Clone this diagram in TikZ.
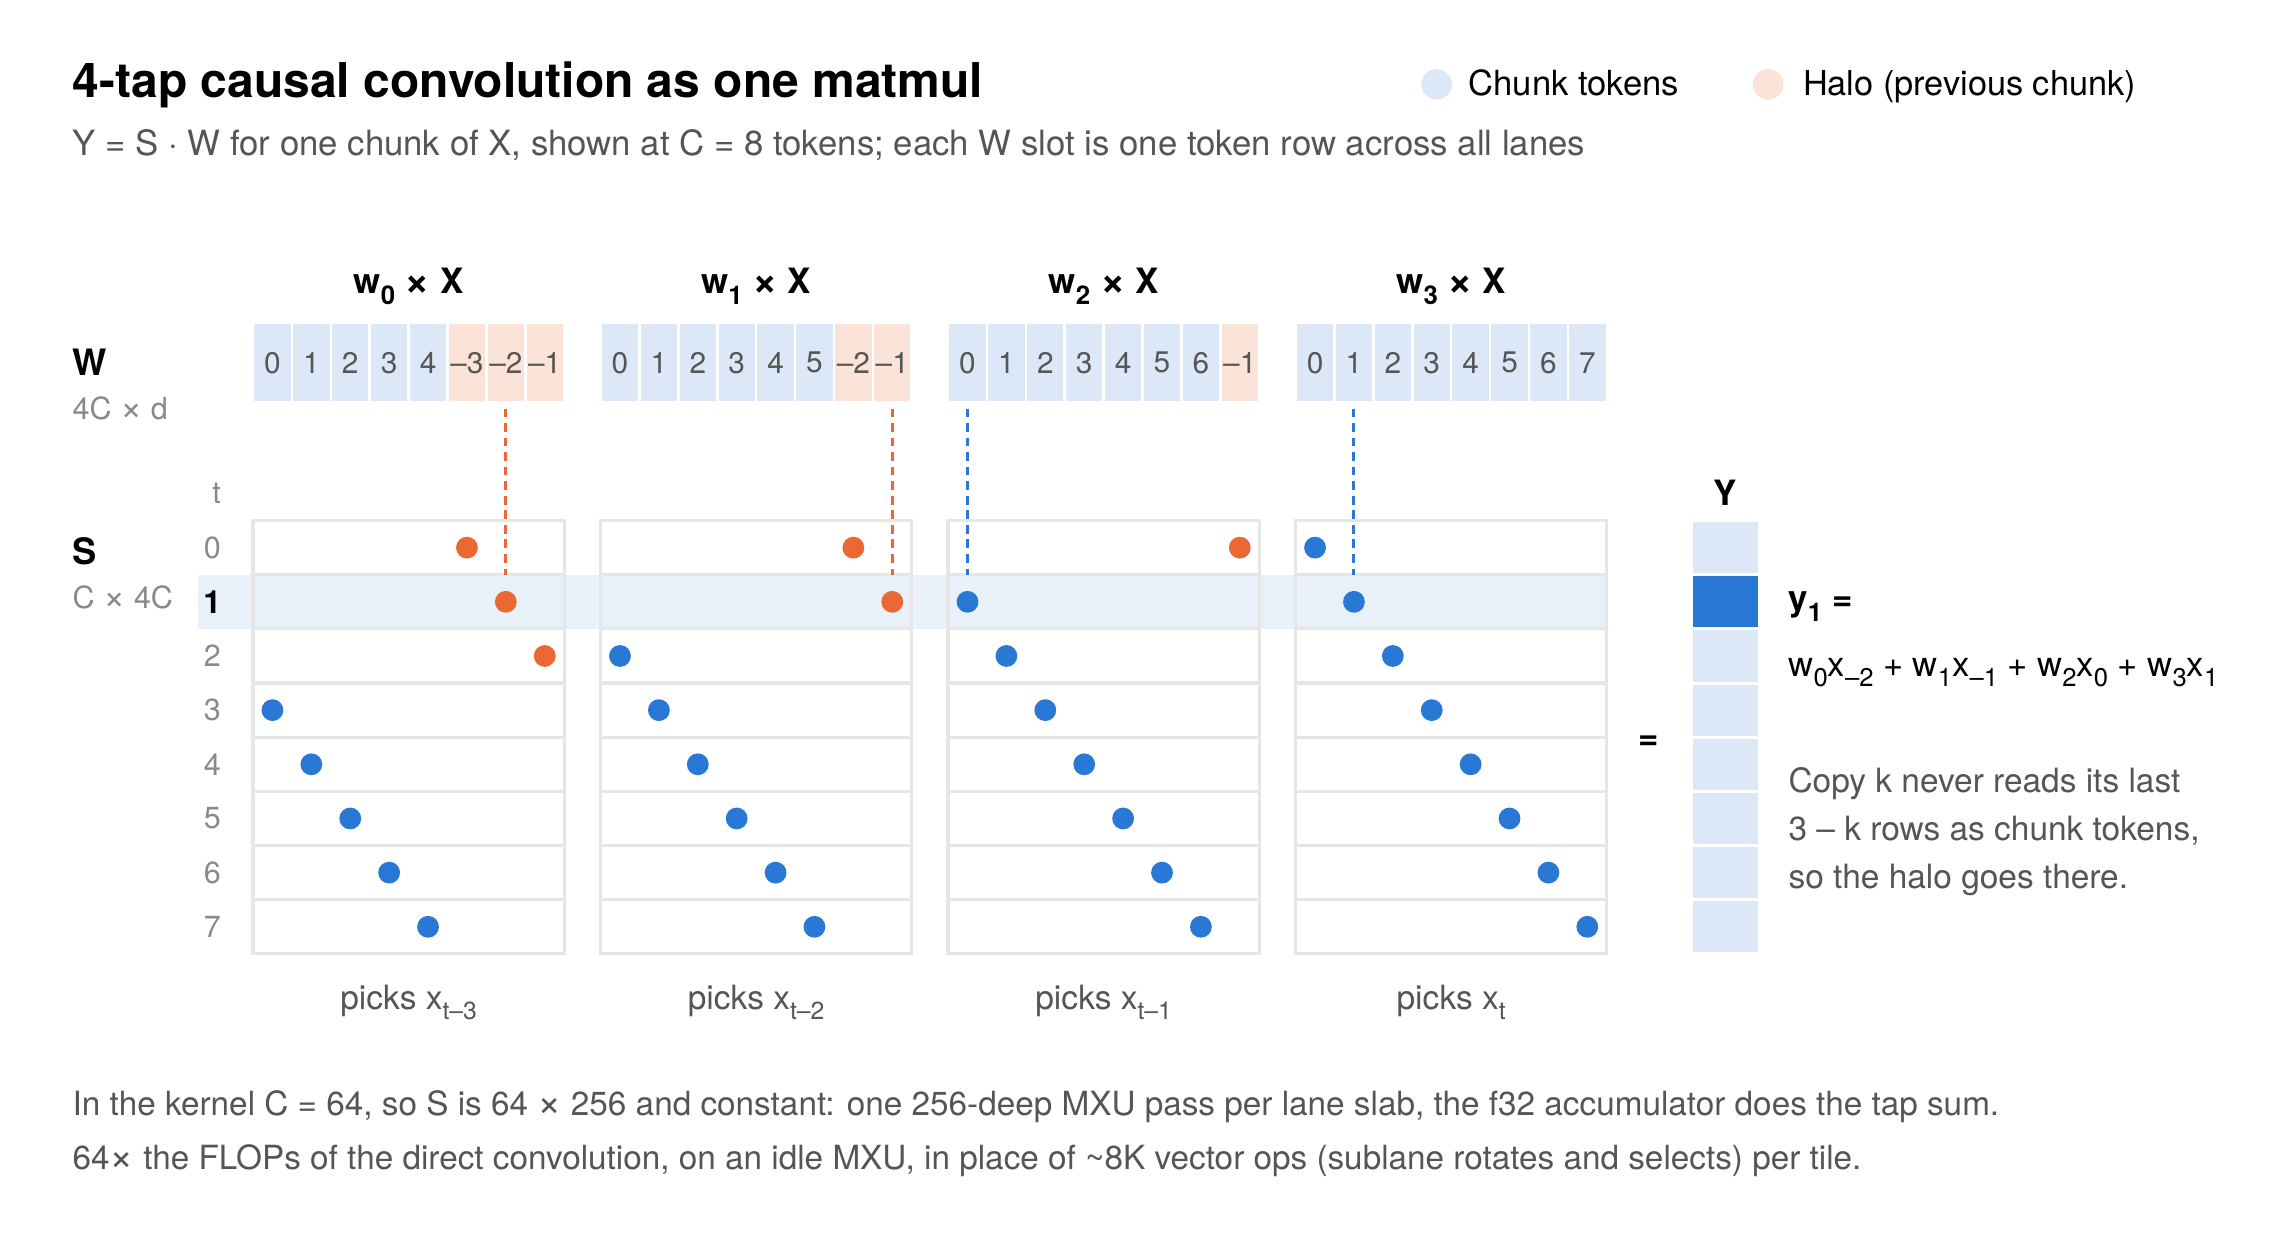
\documentclass[tikz,border=0pt]{standalone}
\usepackage{fontspec}
\usepackage{graphicx}
\setmainfont{TeX Gyre Heros}
\usetikzlibrary{calc}
\definecolor{cblue}{HTML}{2A78D6}
\definecolor{corange}{HTML}{EB6834}
\definecolor{lblue}{HTML}{DCE8F7}
\definecolor{lorange}{HTML}{FCE3D8}
\definecolor{bandc}{HTML}{E8F0FA}
\definecolor{gridc}{HTML}{E6E6E3}
\definecolor{txtgrey}{HTML}{555555}
\definecolor{lblgrey}{HTML}{8A8A8A}
\newcommand{\fsz}[2]{\fontsize{#1}{#2}\selectfont}
\newcommand{\sbs}[1]{\raisebox{-0.3em}{\scalebox{0.74}{#1}}}
\newcommand{\tms}{\raisebox{-0.05em}{\scalebox{1.25}{×}}}
\begin{document}
\begin{tikzpicture}[x=1pt,y=-1pt,
  every node/.style={inner sep=0pt, outer sep=0pt},
  wcell/.style={rectangle, minimum width=25pt, minimum height=53pt, font=\fsz{20.5}{24}\color{txtgrey}},
  rowcell/.style={rectangle, draw=gridc, line width=2.2pt, minimum width=214pt, minimum height=37.25pt},
  ycell/.style={rectangle, minimum width=45pt, minimum height=35.25pt},
  dot/.style={circle, minimum size=15pt},
  dashline/.style={line width=2pt, dash pattern=on 6pt off 4pt},
  boldlbl/.style={font=\bfseries\fsz{24}{28}},
  greylbl/.style={font=\fsz{21}{25}, text=lblgrey},
  bodytxt/.style={font=\fsz{23}{27}, text=txtgrey},
]
\fill[white] (0,0) rectangle (1568,850);
\useasboundingbox (0,0) rectangle (1568,850);

% title and subtitle
\node[anchor=base west, font=\bfseries\fsz{33}{40}] (title) at (50,67) {4-tap causal convolution as one matmul};
\node[anchor=base west, bodytxt, font=\fsz{23.9}{28}] (subtitle) at (50,107) {Y = S · W for one chunk of X, shown at C = 8 tokens; each W slot is one token row across all lanes};

% legend
\node[circle, fill=lblue, minimum size=21pt] (legcdot) at (988,58) {};
\node[anchor=base west, font=\fsz{23.8}{28}] (legc) at (1010,66) {Chunk tokens};
\node[circle, fill=lorange, minimum size=21pt] (leghdot) at (1216,58) {};
\node[anchor=base west, font=\fsz{23.6}{28}] (legh) at (1240,66) {Halo (previous chunk)};

% left labels
\node[anchor=west, boldlbl, font=\bfseries\fsz{25}{29}] (Wlbl) at (50,249) {W};
\node[anchor=west, greylbl] (Wdim) at (50,281) {4C \tms{} d};
\node[anchor=west, boldlbl, font=\bfseries\fsz{25}{29}] (Slbl) at (50,379) {S};
\node[anchor=west, greylbl] (Sdim) at (50,411) {C \tms{} 4C};
\node[greylbl] (tlbl) at (149,339) {t};

% highlight band for row 1
\fill[bandc] (136,395.25) rectangle (1106,432.5);

% row labels
\foreach \t in {0,...,7}{
  \ifnum\t=1
    \node[font=\bfseries\fsz{22}{25}] (rl-\t) at (146,358+37.25*\t+18.625) {\t};
  \else
    \node[greylbl] (rl-\t) at (146,358+37.25*\t+18.625) {\t};
  \fi
}

% panels
\foreach \p in {0,1,2,3}{
  \pgfmathsetmacro{\xo}{174+239*\p}
  \pgfmathtruncatemacro{\hs}{5+\p}
  \node[boldlbl] (hdr-\p) at (\xo+107,197) {w\sbs{\p} \tms{} X};
  \foreach \c in {0,...,7}{
    \pgfmathtruncatemacro{\nv}{8-\c}
    \ifnum\c<\hs
      \node[wcell, fill=lblue] (w-\p-\c) at (\xo+26.75*\c+13.375,249.5) {\c};
    \else
      \node[wcell, fill=lorange] (w-\p-\c) at (\xo+26.75*\c+13.375,249.5) {–\nv};
    \fi
  }
  \foreach \t in {0,...,7}{
    \node[rowcell] (r-\p-\t) at (\xo+107,358+37.25*\t+18.625) {};
  }
  \foreach \t in {0,...,7}{
    \pgfmathtruncatemacro{\dc}{\t-3+\p}
    \ifnum\dc<0
      \pgfmathtruncatemacro{\col}{\dc+8}
      \node[dot, fill=corange] (d-\p-\t) at (\xo+26.75*\col+13.375,358+37.25*\t+18.625) {};
    \else
      \node[dot, fill=cblue] (d-\p-\t) at (\xo+26.75*\dc+13.375,358+37.25*\t+18.625) {};
    \fi
  }
  \pgfmathtruncatemacro{\lc}{\p-2}
  \ifnum\lc<0
    \pgfmathtruncatemacro{\lcol}{\lc+8}
    \draw[dashline, draw=corange] ([yshift=-5pt]w-\p-\lcol.south) -- (w-\p-\lcol.south |- r-\p-1.north);
  \else
    \draw[dashline, draw=cblue] ([yshift=-5pt]w-\p-\lc.south) -- (w-\p-\lc.south |- r-\p-1.north);
  \fi
}

% picks labels
\node[anchor=base, bodytxt] (pk-0) at (281,694) {picks x\sbs{t–3}};
\node[anchor=base, bodytxt] (pk-1) at (520,694) {picks x\sbs{t–2}};
\node[anchor=base, bodytxt] (pk-2) at (759,694) {picks x\sbs{t–1}};
\node[anchor=base, bodytxt] (pk-3) at (998,694) {picks x\sbs{t}};

% equals and Y column
\node[boldlbl] (eq) at (1134,511) {=};
\node[boldlbl] (Ylbl) at (1186.5,339) {Y};
\foreach \t in {0,...,7}{
  \ifnum\t=1
    \node[ycell, fill=cblue] (y-\t) at (1186.5,358+37.25*\t+18.625) {};
  \else
    \node[ycell, fill=lblue] (y-\t) at (1186.5,358+37.25*\t+18.625) {};
  \fi
}

% right annotation
\node[anchor=west, boldlbl] (y1) at (1230,417) {y\sbs{1} =};
\node[anchor=base west, font=\fsz{23.8}{28}] (formula) at (1230,465) {w\sbs{0}x\sbs{–2} + w\sbs{1}x\sbs{–1} + w\sbs{2}x\sbs{0} + w\sbs{3}x\sbs{1}};
\node[anchor=base west, bodytxt] (note1) at (1230,545) {Copy k never reads its last};
\node[anchor=base west, bodytxt] (note2) at (1230,578) {3 – k rows as chunk tokens,};
\node[anchor=base west, bodytxt] (note3) at (1230,611) {so the halo goes there.};

% bottom text
\node[anchor=base west, bodytxt, font=\fsz{22.9}{27}] (foot1) at (50,767) {In the kernel C = 64, so S is 64 \tms{} 256 and constant: one 256-deep MXU pass per lane slab, the f32 accumulator does the tap sum.};
\node[anchor=base west, bodytxt, font=\fsz{22.9}{27}] (foot2) at (50,804) {64\tms{} the FLOPs of the direct convolution, on an idle MXU, in place of \textasciitilde8K vector ops (sublane rotates and selects) per tile.};
\end{tikzpicture}
\end{document}
